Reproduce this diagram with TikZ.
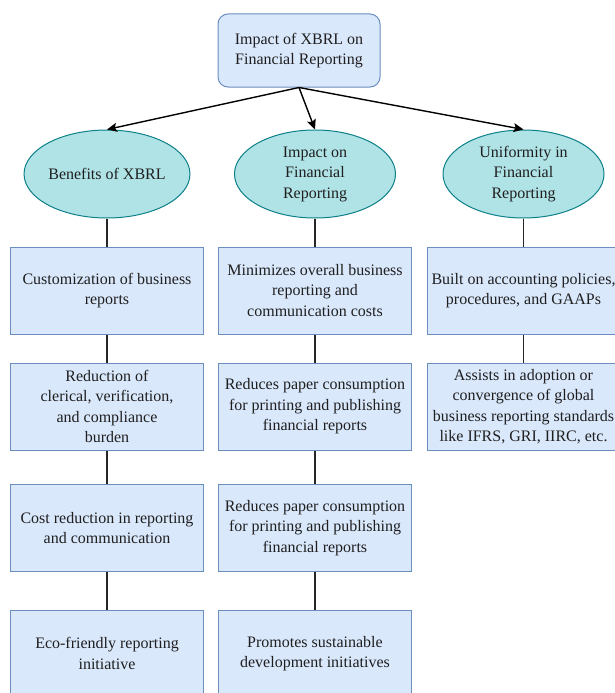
\documentclass[tikz,border=0pt]{standalone}
\usepackage{fontspec}
\setmainfont{Liberation Serif}
\usetikzlibrary{shapes.geometric,arrows.meta}
\definecolor{boxfill}{HTML}{DAE8FC}
\definecolor{boxline}{HTML}{6C8EBF}
\definecolor{ellfill}{HTML}{B0E3E6}
\definecolor{ellline}{HTML}{0E8088}
\tikzset{
  txt/.style={font=\fontsize{16}{20.5}\selectfont, align=center, text=black!88},
  topbox/.style={txt, draw=boxline, fill=boxfill, line width=1pt, rounded corners=10pt, minimum width=162pt, minimum height=73pt, inner sep=0pt},
  ell/.style={txt, ellipse, draw=ellline, fill=ellfill, line width=1pt, minimum width=161pt, minimum height=88pt, inner sep=0pt},
  itembox/.style={txt, rectangle, draw=boxline, fill=boxfill, line width=1pt, minimum width=193pt, minimum height=87pt, inner sep=0pt},
  arr/.style={-{Stealth[length=10pt,width=9pt,inset=2pt]}, line width=1.4pt, black},
  link/.style={line width=1.2pt, black!85}
}
\begin{document}
\begin{tikzpicture}[x=1pt,y=1pt]
\useasboundingbox (0,0) rectangle (614,-693);
\fill[white] (0,0) rectangle (614,-693);
\node[topbox] (top) at (299,-50.5) {Impact of XBRL on\\Financial Reporting};
\node[ell] (e1) at (107,-174) {Benefits of XBRL};
\node[ell] (e2) at (315,-174) {Impact on\\Financial\\Reporting};
\node[ell] (e3) at (523.5,-174) {Uniformity in\\Financial\\Reporting};
\node[itembox] (a1) at (107,-290.5) {Customization of business\\reports};
\node[itembox] (a2) at (107,-406.5) {Reduction of\\clerical, verification,\\and compliance\\burden};
\node[itembox] (a3) at (107,-528) {Cost reduction in reporting\\and communication};
\node[itembox] (a4) at (107,-653.5) {Eco-friendly reporting\\initiative};
\node[itembox] (b1) at (315,-290.5) {Minimizes overall business\\reporting and\\communication costs};
\node[itembox] (b2) at (315,-406.5) {Reduces paper consumption\\for printing and publishing\\financial reports};
\node[itembox] (b3) at (315,-528) {Reduces paper consumption\\for printing and publishing\\financial reports};
\node[itembox] (b4) at (315,-653.5) {Promotes sustainable\\development initiatives};
\node[itembox] (c1) at (523.5,-290.5) {Built on accounting policies,\\procedures, and GAAPs};
\node[itembox] (c2) at (523.5,-406.5) {Assists in adoption or\\convergence of global\\business reporting standards\\like IFRS, GRI, IIRC, etc.};
\draw[arr] (top.south) -- (e1.north);
\draw[arr] (top.south) -- (e2.north);
\draw[arr] (top.south) -- (e3.north);
\draw[link] (e1.south) -- (a1.north);
\draw[link] (a1.south) -- (a2.north);
\draw[link] (a2.south) -- (a3.north);
\draw[link] (a3.south) -- (a4.north);
\draw[link] (e2.south) -- (b1.north);
\draw[link] (b1.south) -- (b2.north);
\draw[link] (b2.south) -- (b3.north);
\draw[link] (b3.south) -- (b4.north);
\draw[link] (e3.south) -- (c1.north);
\draw[link] (c1.south) -- (c2.north);
\end{tikzpicture}
\end{document}
